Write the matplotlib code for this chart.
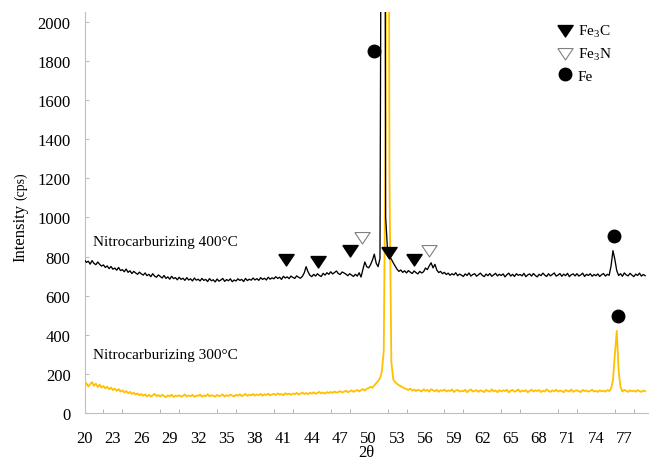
import numpy as np
import matplotlib
matplotlib.use("Agg")
import matplotlib.pyplot as plt
from matplotlib.lines import Line2D

plt.rcParams['font.family'] = ['Liberation Serif', 'DejaVu Serif']
plt.rcParams['mathtext.fontset'] = 'custom'
plt.rcParams['mathtext.rm'] = 'Liberation Serif'
plt.rcParams['mathtext.it'] = 'Liberation Serif:italic'

# ---- data: XRD scans, 0.2 deg step from 20.0 to 79.2 (2-theta) ----
scan_start, scan_step, scan_points = 20.0, 0.2, 297
two_theta = np.round(scan_start + scan_step * np.arange(scan_points), 1)

intensity_400 = [
    782, 770, 776, 761, 779, 765, 758, 772, 760, 751,
    757, 744, 752, 738, 749, 735, 741, 730, 744, 728,
    733, 722, 736, 719, 727, 713, 724, 716, 709, 720,
    711, 705, 716, 702, 709, 697, 712, 700, 694, 706,
    698, 690, 703, 688, 696, 684, 699, 687, 692, 681,
    694, 683, 689, 678, 692, 680, 686, 675, 690, 679,
    684, 675, 688, 678, 683, 672, 687, 676, 681, 670,
    685, 674, 680, 688, 673, 682, 676, 686, 671, 680,
    675, 686, 678, 683, 672, 688, 677, 684, 679, 690,
    680, 687, 678, 692, 683, 689, 680, 694, 684, 691,
    686, 697, 688, 694, 683, 699, 690, 696, 687, 700,
    693, 688, 701, 694, 689, 698, 716, 748, 722, 704,
    697, 709, 700, 712, 703, 698, 714, 705, 717, 709,
    722, 711, 718, 726, 713, 708, 721, 716, 710, 702,
    712, 705, 698, 709, 700, 717, 695, 735, 772, 748,
    742, 758, 781, 812, 766, 748, 790, 4000, 6000, 1000,
    830, 802, 786, 768, 752, 735, 724, 731, 719, 727,
    716, 728, 720, 713, 726, 718, 711, 724, 716, 722,
    741, 733, 752, 768, 742, 760, 731, 718, 724, 712,
    719, 708, 715, 704, 712, 706, 717, 702, 710, 705,
    698, 711, 703, 716, 700, 708, 712, 699, 707, 715,
    704, 697, 710, 702, 713, 699, 706, 714, 701, 709,
    703, 711, 696, 707, 715, 700, 709, 698, 712, 704,
    708, 701, 714, 697, 706, 711, 700, 713, 703, 696,
    709, 702, 715, 705, 698, 712, 701, 708, 716, 700,
    705, 713, 699, 710, 702, 714, 697, 707, 711, 701,
    712, 700, 706, 715, 698, 709, 703, 712, 699, 708,
    702, 711, 698, 707, 713, 700, 709, 704, 752, 830,
    785, 728, 703, 712, 699, 716, 706, 701, 714, 705,
    697, 710, 703, 715, 700, 708, 702,
]

intensity_300 = [
    141, 152, 135, 148, 158, 139, 150, 133, 145, 130,
    138, 126, 134, 121, 130, 117, 125, 113, 122, 110,
    116, 105, 112, 101, 108, 97, 104, 94, 100, 91,
    97, 88, 95, 85, 93, 84, 90, 98, 86, 92,
    84, 93, 87, 81, 90, 85, 94, 82, 89, 86,
    91, 83, 88, 95, 84, 90, 86, 93, 82, 89,
    87, 94, 83, 90, 86, 96, 85, 91, 88, 84,
    92, 86, 89, 95, 84, 91, 87, 94, 89, 85,
    93, 88, 96, 86, 91, 98, 87, 94, 90, 97,
    89, 95, 91, 98, 88, 96, 92, 99, 90, 95,
    98, 92, 100, 94, 97, 91, 101, 95, 99, 93,
    100, 96, 103, 94, 99, 105, 97, 102, 96, 104,
    99, 106, 98, 103, 108, 100, 105, 99, 107, 102,
    108, 103, 110, 104, 107, 112, 105, 109, 114, 106,
    111, 116, 108, 113, 118, 110, 117, 122, 115, 124,
    127, 134, 129, 141, 152, 163, 178, 212, 320, 1500,
    6000, 1200, 262, 172, 158, 149, 142, 137, 131, 126,
    122, 118, 125, 114, 120, 112, 119, 115, 110, 121,
    113, 118, 109, 122, 116, 111, 119, 108, 117, 113,
    120, 110, 116, 112, 121, 107, 115, 118, 109, 114,
    111, 119, 106, 115, 120, 110, 113, 117, 108, 116,
    112, 107, 118, 113, 109, 121, 111, 115, 106, 117,
    110, 116, 112, 119, 105, 114, 118, 109, 113, 120,
    108, 115, 111, 117, 106, 113, 119, 110, 116, 112,
    118, 107, 114, 110, 121, 112, 108, 116, 111, 119,
    109, 115, 112, 106, 117, 113, 110, 120, 108, 114,
    116, 111, 107, 118, 112, 115, 109, 113, 119, 110,
    113, 108, 116, 111, 114, 109, 117, 112, 124, 168,
    300, 420, 215, 132, 110, 118, 113, 108, 116, 111,
    114, 109, 117, 112, 108, 115, 111,
]

# phase markers (2-theta, intensity)
fe3c_theta = [41.3, 44.7, 48.0, 52.1, 54.8]
fe3c_int = [788, 779, 835, 822, 788]
fe3n_theta = [49.3, 56.4]
fe3n_int = [899, 835]
fe_theta = [50.6, 75.9, 76.3]
fe_int = [1853, 904, 495]

series_labels = ["Nitrocarburizing 400°C", "Nitrocarburizing 300°C"]
legend_labels = ["Fe$_3$C", "Fe$_3$N", "Fe"]
x_ticks = list(range(20, 78, 3))
x_minor = list(range(22, 79, 2))
y_ticks = list(range(0, 2001, 200))

# ---- figure ----
fig = plt.figure(figsize=(6.52, 4.64), dpi=100)
ax = fig.add_axes([84.5 / 652, 1 - 414 / 464, (648 - 84.5) / 652, (414 - 13) / 464])

gold = '#FFC000'
ax.plot(two_theta, intensity_300, color=gold, lw=1.3, zorder=2)
ax.plot(two_theta, intensity_400, color='black', lw=0.95, zorder=3)

tri = [(-1, 0.65), (1, 0.65), (0, -0.85), (-1, 0.65)]
ax.plot(fe3c_theta, fe3c_int, ls='none', marker=tri, ms=11, mfc='black', mec='black', zorder=5)
ax.plot(fe3n_theta, fe3n_int, ls='none', marker=tri, ms=11, mfc='white', mec='#7f7f7f', mew=0.8, zorder=5)
ax.plot(fe_theta, fe_int, ls='none', marker='o', ms=9, mfc='black', mec='black', zorder=5)

ax.text(20.9, 875, series_labels[0], fontsize=11, va='center', ha='left')
ax.text(20.9, 297, series_labels[1], fontsize=11, va='center', ha='left')

ax.set_xlim(20, 79.5)
ax.set_ylim(0, 2050)
ax.set_xticks(x_ticks)
ax.set_xticks(x_minor, minor=True)
ax.set_yticks(y_ticks)
ax.tick_params(axis='x', which='major', length=0, pad=12, labelsize=12)
ax.tick_params(axis='x', which='minor', length=3, direction='in', color='#a6a6a6')
ax.tick_params(axis='y', which='major', length=3, direction='in', color='#bfbfbf', pad=10, labelsize=12)

for s in ['top', 'right']:
    ax.spines[s].set_visible(False)
for s in ['left', 'bottom']:
    ax.spines[s].set_color('#bfbfbf')
    ax.spines[s].set_linewidth(0.8)

fig.text(366 / 652, 1 - 453 / 464, '2θ', fontsize=12, ha='center', va='center')
fig.text(20 / 652, 1 - 262 / 464, 'Intensity', rotation=90, fontsize=12,
         ha='center', va='bottom')
fig.text(21 / 652, 1 - 200 / 464, '(cps)', rotation=90, fontsize=10,
         ha='center', va='bottom')

handles = [
    Line2D([], [], ls='none', marker=tri, ms=11, mfc='black', mec='black'),
    Line2D([], [], ls='none', marker=tri, ms=11, mfc='white', mec='#7f7f7f', mew=0.8),
    Line2D([], [], ls='none', marker='o', ms=9, mfc='black', mec='black'),
]
fig.legend(handles, legend_labels, loc='upper left', bbox_to_anchor=(557 / 652, 1 - 24 / 464),
           frameon=False, fontsize=11, handlelength=1.0, handletextpad=0.35,
           labelspacing=0.45, borderpad=0, borderaxespad=0)

fig.savefig('out.png', dpi=100)
